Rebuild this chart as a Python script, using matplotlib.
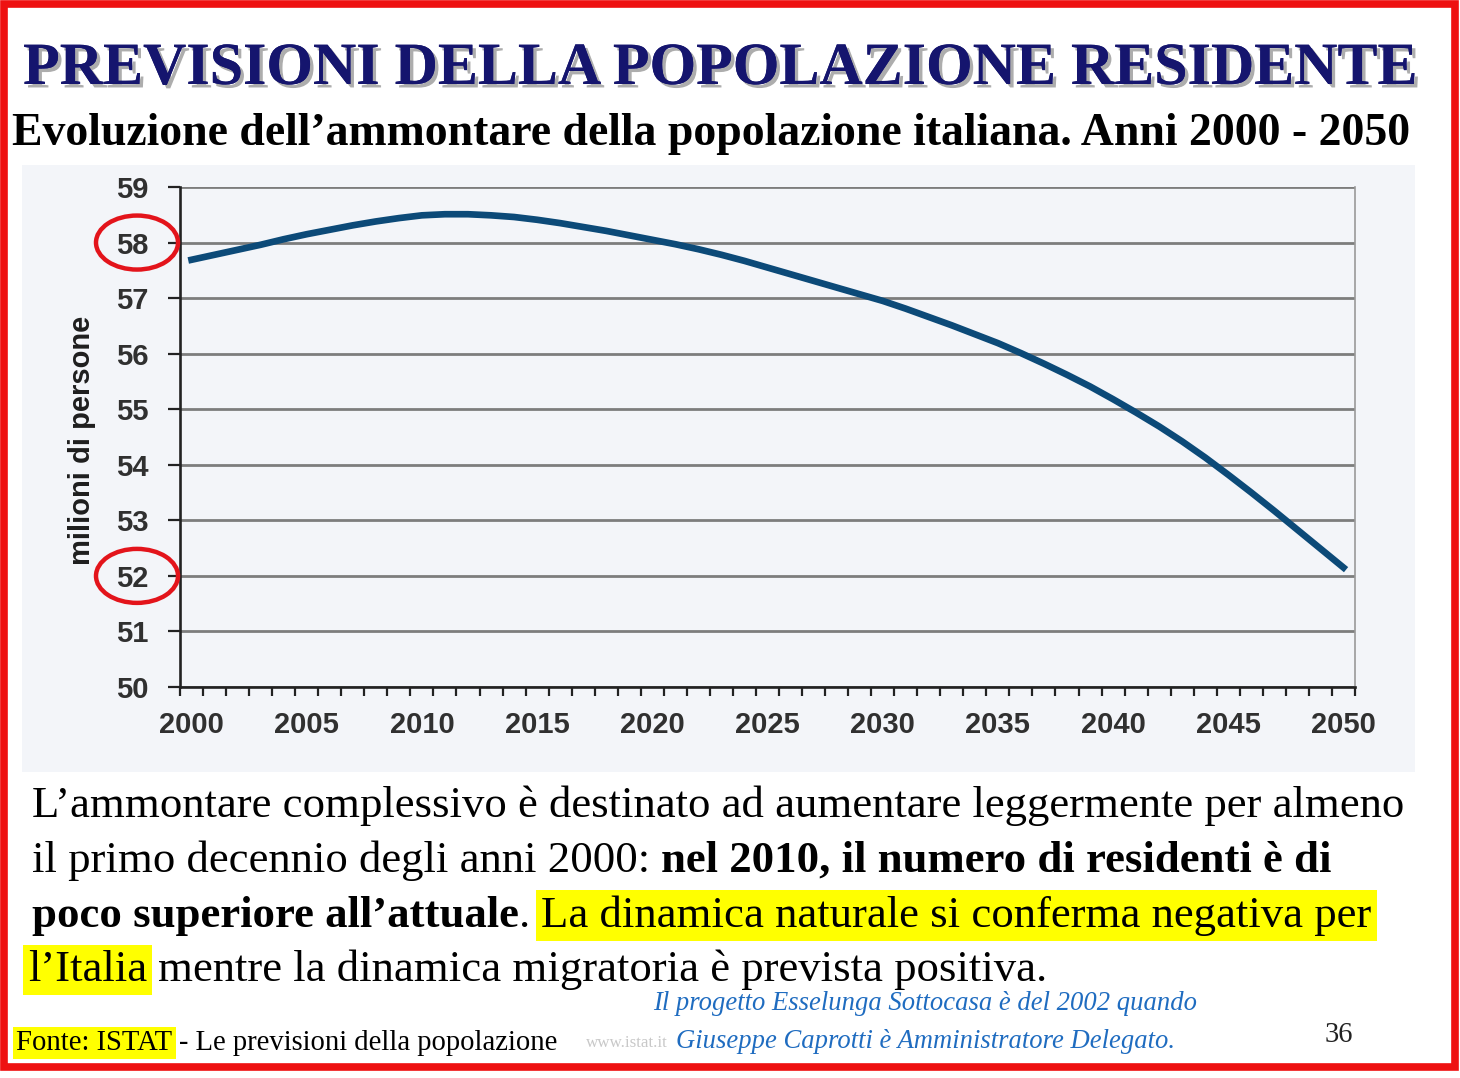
import numpy as np
import matplotlib
matplotlib.use('Agg')
import matplotlib.pyplot as plt
from matplotlib.patches import Ellipse, Rectangle
import matplotlib.patheffects as pe

# =============================================================================
# DATA
# =============================================================================
anni = list(range(2000, 2051))
popolazione = [57.69, 57.78, 57.87, 57.96, 58.06, 58.15, 58.23, 58.31, 58.38, 58.44,
               58.49, 58.51, 58.51, 58.49, 58.46, 58.41, 58.35, 58.28, 58.21, 58.13,
               58.05, 57.97, 57.88, 57.78, 57.67, 57.55, 57.43, 57.31, 57.19, 57.07,
               56.95, 56.81, 56.66, 56.51, 56.35, 56.19, 56.01, 55.82, 55.62, 55.41,
               55.18, 54.94, 54.69, 54.42, 54.13, 53.82, 53.50, 53.17, 52.83, 52.49,
               52.15]
anni_etichette = [2000, 2005, 2010, 2015, 2020, 2025, 2030, 2035, 2040, 2045, 2050]
y_ticks = [50, 51, 52, 53, 54, 55, 56, 57, 58, 59]
valori_cerchiati = [58, 52]

titolo = 'PREVISIONI DELLA POPOLAZIONE RESIDENTE'
sottotitolo = 'Evoluzione dell\u2019ammontare della popolazione italiana. Anni 2000 - 2050'
y_label = 'milioni di persone'

# =============================================================================
# FIGURE
# =============================================================================
W, H = 1460, 1078
fig = plt.figure(figsize=(W / 100, H / 100), dpi=100)
fig.patch.set_facecolor('white')
r = fig.canvas.get_renderer()

def fx(px):
    return px / W

def fy(py):
    return 1 - py / H

SERIF = ['Liberation Serif', 'DejaVu Serif']
NARROW = ['Liberation Sans Narrow', 'Liberation Sans', 'DejaVu Sans']

# faint background of the scanned chart (below the axes)
fig.patches.append(Rectangle((fx(22), fy(772)), fx(1415) - fx(22), fy(165) - fy(772),
                             transform=fig.transFigure, facecolor='#f3f5f9',
                             edgecolor='none', zorder=-5))

# red frame of the slide
fig.patches.append(Rectangle((fx(4), fy(1067)), fx(1455) - fx(4), fy(4) - fy(1067),
                             transform=fig.transFigure, fill=False,
                             edgecolor='#ee1111', lw=5.5, zorder=10))

# --- chart
ax = fig.add_axes([fx(180), fy(687), (1355 - 180) / W, (687 - 187) / H])
ax.set_facecolor('none')
x = np.arange(len(anni))
ax.plot(x, popolazione, color='#0c4a78', lw=4.8, zorder=3)
ax.set_xlim(-0.5, len(anni) - 0.5)
ax.set_ylim(y_ticks[0], y_ticks[-1])
ax.set_yticks(y_ticks)
ax.set_yticklabels([str(v) for v in y_ticks])
ax.yaxis.grid(True, color='#7d7d7d', lw=2.0)
ax.set_axisbelow(True)

ax.set_xticks(np.arange(-0.5, len(anni)))
ax.set_xticklabels([])
ax.set_xticks([anni.index(a) for a in anni_etichette], minor=True)
ax.set_xticklabels([str(a) for a in anni_etichette], minor=True)
ax.tick_params(axis='x', which='major', length=6.5, width=1.6, color='#222222')
ax.tick_params(axis='x', which='minor', length=0, pad=17)
ax.tick_params(axis='y', length=8.5, width=1.6, color='#222222', pad=14)
for lab in ax.get_xticklabels(minor=True) + ax.get_yticklabels():
    lab.set_fontfamily(NARROW)
    lab.set_fontweight('bold')
    lab.set_fontsize(21)
    lab.set_color('#303030')

ax.spines['top'].set_visible(False)
ax.spines['right'].set_color('#999999')
ax.spines['right'].set_linewidth(1.2)
ax.spines['left'].set_color('#222222')
ax.spines['left'].set_linewidth(1.9)
ax.spines['bottom'].set_color('#222222')
ax.spines['bottom'].set_linewidth(1.9)

fig.text(fx(82), fy(440), y_label, rotation=90, ha='center', va='center',
         fontsize=21, fontweight='bold', family=NARROW, color='#1e1e1e')

# red circles round 58 and 52
for v in valori_cerchiati:
    yy = ax.transData.transform((0, v))[1] / H
    fig.patches.append(Ellipse((fx(137), yy), 82 / W, 54 / H, transform=fig.transFigure,
                               fill=False, edgecolor='#e3141b', lw=3.2, zorder=5))

# --- helpers for text
def fit(txt, target_px, **kw):
    t = fig.text(0, 0, txt, fontsize=50, **kw)
    w = t.get_window_extent(r).width
    t.remove()
    return 50 * target_px / w

def space_w(size, **kw):
    a = fig.text(0, 0, 'x x', fontsize=size, **kw)
    b = fig.text(0, 0, 'xx', fontsize=size, **kw)
    w = a.get_window_extent(r).width - b.get_window_extent(r).width
    a.remove()
    b.remove()
    return w

def runs(x_px, y_px, pezzi, size):
    xx = x_px
    for txt, kw in pezzi:
        if txt == ' ':
            xx += space_w(size, family=SERIF)
            continue
        t = fig.text(fx(xx), fy(y_px), txt, fontsize=size, va='baseline',
                     family=SERIF, **kw)
        xx = t.get_window_extent(r).x1

# --- title and subtitle
s_tit = fit(titolo, 1396, family=SERIF, fontweight='bold')
fig.text(fx(720), fy(84), titolo, ha='center', va='baseline', fontsize=s_tit,
         fontweight='bold', family=SERIF, color='#15156e',
         path_effects=[pe.withSimplePatchShadow(offset=(2.5, -2.5), shadow_rgbFace='#8a8a8a',
                                                alpha=0.7), pe.Normal()])
s_sub = fit(sottotitolo, 1398, family=SERIF, fontweight='bold')
fig.text(fx(12), fy(145), sottotitolo, va='baseline', fontsize=s_sub,
         fontweight='bold', family=SERIF, color='black')

# --- body
riga1 = 'L\u2019ammontare complessivo è destinato ad aumentare leggermente per almeno'
s_body = fit(riga1, 1373, family=SERIF)
giallo = dict(boxstyle='square,pad=0.12', facecolor='#ffff00', edgecolor='none')
runs(32, 817, [(riga1, {})], s_body)
runs(32, 872, [('il primo decennio degli anni 2000:', {}), (' ', {}),
               ('nel 2010, il numero di residenti è di', {'fontweight': 'bold'})], s_body)
runs(32, 927, [('poco superiore all\u2019attuale', {'fontweight': 'bold'}), ('.', {}), (' ', {}),
               ('La dinamica naturale si conferma negativa per', {'bbox': giallo})], s_body)
runs(28, 981, [('l\u2019Italia', {'bbox': giallo}), (' ', {}),
               ('mentre la dinamica migratoria è prevista positiva.', {})], s_body)

# --- footer
fonte = 'Fonte: ISTAT - Le previsioni della popolazione'
s_f = fit(fonte, 542, family=SERIF)
runs(16, 1050, [('Fonte: ISTAT', {'bbox': giallo}), (' ', {}),
                ('- Le previsioni della popolazione', {})], s_f)
s_www = fit('www.istat.it', 82, family=SERIF)
fig.text(fx(586), fy(1047), 'www.istat.it', fontsize=s_www, va='baseline',
         family=SERIF, color='#c8c8c8')

nota1 = 'Il progetto Esselunga Sottocasa è del 2002 quando'
nota2 = 'Giuseppe Caprotti è Amministratore Delegato.'
s_n = fit(nota1, 544, family=SERIF, style='italic')
fig.text(fx(925), fy(1010), nota1, ha='center', va='baseline', fontsize=s_n,
         family=SERIF, style='italic', color='#1f6cc0')
fig.text(fx(925), fy(1048), nota2, ha='center', va='baseline', fontsize=s_n,
         family=SERIF, style='italic', color='#1f6cc0')
fig.text(fx(1339), fy(1042), '36', ha='center', va='baseline', fontsize=s_f,
         family=SERIF, color='#222222')

fig.savefig('out.png', dpi=100)
